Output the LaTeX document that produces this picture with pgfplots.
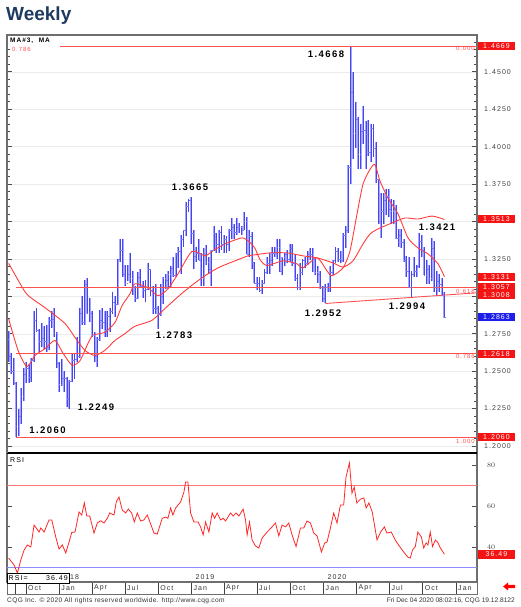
\documentclass[border=0pt]{standalone}
\usepackage{pgfplots}
\pgfplotsset{compat=1.18}
\usepackage{pgfplotstable}
\usepackage{fontspec}
\setmainfont{Liberation Sans}
\newfontfamily\lsp[LetterSpace=15]{Liberation Sans}
\newfontfamily\footf[LetterSpace=5]{Liberation Sans}
\definecolor{barcol}{RGB}{70,70,240}
\definecolor{barhalo}{RGB}{165,165,255}
\definecolor{tickcol}{RGB}{120,120,250}
\definecolor{mared}{RGB}{255,60,60}
\definecolor{fibred}{RGB}{255,80,80}
\definecolor{boxred}{RGB}{245,20,20}
\definecolor{boxblue}{RGB}{30,30,235}
\definecolor{navy}{RGB}{31,58,96}
\definecolor{axgray}{RGB}{110,110,110}
\newcommand\tickf{\lsp\fontsize{7}{8}\selectfont}
\newcommand\lblf{\lsp\bfseries\fontsize{9.5}{10}\selectfont}
\newcommand\fibf{\lsp\fontsize{6}{7}\selectfont}
\pgfdeclareplotmark{otick}{\pgfpathmoveto{\pgfqpoint{-1.2pt}{0pt}}\pgfpathlineto{\pgfqpoint{0pt}{0pt}}\pgfusepathqstroke}
\pgfdeclareplotmark{ctick}{\pgfpathmoveto{\pgfqpoint{0pt}{0pt}}\pgfpathlineto{\pgfqpoint{1.2pt}{0pt}}\pgfusepathqstroke}

\pgfplotstableread{
w o h l c
0 1.2710 1.2770 1.2560 1.2600
1 1.2600 1.2620 1.2480 1.2500
2 1.2500 1.2590 1.2410 1.2420
3 1.2420 1.2430 1.2060 1.2130
4 1.2130 1.2250 1.2065 1.2200
5 1.2200 1.2390 1.2150 1.2330
6 1.2330 1.2520 1.2300 1.2480
7 1.2480 1.2560 1.2420 1.2520
8 1.2520 1.2550 1.2420 1.2460
9 1.2460 1.2590 1.2430 1.2570
10 1.2570 1.2900 1.2560 1.2840
11 1.2840 1.2920 1.2760 1.2770
12 1.2770 1.2780 1.2630 1.2700
13 1.2700 1.2820 1.2660 1.2720
14 1.2720 1.2800 1.2650 1.2700
15 1.2700 1.2810 1.2630 1.2660
16 1.2660 1.2860 1.2640 1.2840
17 1.2840 1.2900 1.2790 1.2850
18 1.2850 1.2920 1.2730 1.2750
19 1.2750 1.2760 1.2520 1.2550
20 1.2550 1.2560 1.2360 1.2410
21 1.2410 1.2580 1.2400 1.2450
22 1.2450 1.2500 1.2360 1.2450
23 1.2450 1.2460 1.2260 1.2310
24 1.2310 1.2440 1.2249 1.2430
25 1.2430 1.2620 1.2430 1.2570
26 1.2570 1.2620 1.2450 1.2580
27 1.2580 1.2730 1.2560 1.2600
28 1.2600 1.2920 1.2590 1.2890
29 1.2890 1.3000 1.2810 1.2830
30 1.2830 1.3110 1.2810 1.3080
31 1.3080 1.3125 1.2880 1.2890
32 1.2890 1.2990 1.2830 1.2890
33 1.2890 1.2900 1.2730 1.2740
34 1.2740 1.2760 1.2560 1.2600
35 1.2600 1.2730 1.2527 1.2710
36 1.2710 1.2910 1.2700 1.2840
37 1.2840 1.2920 1.2780 1.2830
38 1.2830 1.2900 1.2730 1.2770
39 1.2770 1.2900 1.2730 1.2870
40 1.2870 1.2920 1.2760 1.2900
41 1.2900 1.3030 1.2880 1.2960
42 1.2960 1.3000 1.2860 1.2950
43 1.2950 1.3250 1.2940 1.3250
44 1.3250 1.3380 1.3230 1.3310
45 1.3310 1.3385 1.3130 1.3150
46 1.3150 1.3210 1.3070 1.3090
47 1.3090 1.3210 1.3100 1.3150
48 1.3150 1.3290 1.3090 1.3120
49 1.3120 1.3170 1.3010 1.3060
50 1.3060 1.3070 1.2960 1.2990
51 1.2990 1.3160 1.2980 1.3130
52 1.3130 1.3180 1.3060 1.3070
53 1.3070 1.3100 1.2990 1.3040
54 1.3040 1.3110 1.2960 1.3050
55 1.3050 1.3220 1.3040 1.3180
56 1.3180 1.3180 1.3000 1.3040
57 1.3040 1.3070 1.2880 1.2920
58 1.2920 1.3080 1.2880 1.2920
59 1.2920 1.2935 1.2783 1.2880
60 1.2880 1.3080 1.2870 1.3000
61 1.3000 1.3130 1.2950 1.3120
62 1.3120 1.3150 1.3050 1.3110
63 1.3110 1.3170 1.3050 1.3150
64 1.3150 1.3200 1.3060 1.3190
65 1.3190 1.3260 1.3130 1.3140
66 1.3140 1.3290 1.3130 1.3280
67 1.3280 1.3330 1.3190 1.3300
68 1.3300 1.3410 1.3150 1.3380
69 1.3380 1.3440 1.3330 1.3440
70 1.3440 1.3630 1.3400 1.3600
71 1.3600 1.3650 1.3560 1.3640
72 1.3640 1.3665 1.3350 1.3420
73 1.3420 1.3440 1.3180 1.3270
74 1.3270 1.3330 1.3230 1.3290
75 1.3290 1.3380 1.3240 1.3240
76 1.3240 1.3290 1.3070 1.3120
77 1.3120 1.3320 1.3070 1.3280
78 1.3280 1.3340 1.3210 1.3230
79 1.3230 1.3260 1.3150 1.3180
80 1.3180 1.3310 1.3070 1.3310
81 1.3310 1.3470 1.3300 1.3420
82 1.3420 1.3420 1.3290 1.3350
83 1.3350 1.3440 1.3290 1.3430
84 1.3430 1.3470 1.3310 1.3350
85 1.3350 1.3410 1.3290 1.3380
86 1.3380 1.3400 1.3290 1.3350
87 1.3350 1.3450 1.3300 1.3440
88 1.3440 1.3520 1.3380 1.3460
89 1.3460 1.3480 1.3380 1.3430
90 1.3430 1.3520 1.3410 1.3460
91 1.3460 1.3490 1.3420 1.3460
92 1.3460 1.3470 1.3410 1.3440
93 1.3440 1.3565 1.3440 1.3500
94 1.3500 1.3530 1.3280 1.3280
95 1.3280 1.3440 1.3260 1.3400
96 1.3400 1.3430 1.3180 1.3230
97 1.3230 1.3230 1.3090 1.3090
98 1.3090 1.3130 1.3040 1.3090
99 1.3090 1.3130 1.3030 1.3040
100 1.3040 1.3110 1.3016 1.3090
101 1.3090 1.3180 1.3090 1.3160
102 1.3160 1.3260 1.3150 1.3220
103 1.3220 1.3290 1.3150 1.3240
104 1.3240 1.3330 1.3200 1.3290
105 1.3290 1.3330 1.3260 1.3290
106 1.3290 1.3380 1.3250 1.3330
107 1.3330 1.3380 1.3160 1.3170
108 1.3170 1.3260 1.3140 1.3260
109 1.3260 1.3290 1.3200 1.3280
110 1.3280 1.3310 1.3220 1.3250
111 1.3250 1.3350 1.3230 1.3320
112 1.3320 1.3350 1.3200 1.3220
113 1.3220 1.3280 1.3100 1.3120
114 1.3120 1.3150 1.3040 1.3060
115 1.3060 1.3220 1.3040 1.3160
116 1.3160 1.3250 1.3140 1.3240
117 1.3240 1.3260 1.3190 1.3220
118 1.3220 1.3300 1.3210 1.3280
119 1.3280 1.3320 1.3240 1.3280
120 1.3280 1.3320 1.3160 1.3250
121 1.3250 1.3250 1.3140 1.3160
122 1.3160 1.3200 1.3090 1.3150
123 1.3150 1.3170 1.3050 1.3060
124 1.3060 1.3070 1.2960 1.2990
125 1.2990 1.3080 1.2952 1.3060
126 1.3060 1.3090 1.3030 1.3050
127 1.3050 1.3200 1.3030 1.3160
128 1.3160 1.3240 1.3140 1.3240
129 1.3240 1.3330 1.3220 1.3300
130 1.3300 1.3320 1.3230 1.3250
131 1.3250 1.3300 1.3220 1.3240
132 1.3240 1.3420 1.3230 1.3410
133 1.3410 1.3470 1.3320 1.3440
134 1.3440 1.3880 1.3420 1.3860
135 1.3860 1.4668 1.3750 1.4360
136 1.4360 1.4500 1.3920 1.4090
137 1.4090 1.4300 1.3990 1.4180
138 1.4180 1.4200 1.3850 1.3950
139 1.3950 1.4150 1.3850 1.4100
140 1.4100 1.4270 1.4020 1.4110
141 1.4110 1.4170 1.3850 1.4080
142 1.4080 1.4180 1.3940 1.3960
143 1.3960 1.4150 1.3900 1.4120
144 1.4120 1.4150 1.3930 1.3990
145 1.3990 1.4030 1.3760 1.3780
146 1.3780 1.3780 1.3480 1.3500
147 1.3500 1.3690 1.3390 1.3570
148 1.3570 1.3690 1.3480 1.3640
149 1.3640 1.3720 1.3540 1.3670
150 1.3670 1.3720 1.3530 1.3580
151 1.3580 1.3650 1.3480 1.3570
152 1.3570 1.3640 1.3480 1.3580
153 1.3580 1.3610 1.3380 1.3390
154 1.3390 1.3450 1.3330 1.3410
155 1.3410 1.3450 1.3320 1.3360
156 1.3360 1.3380 1.3230 1.3240
157 1.3240 1.3270 1.3130 1.3170
158 1.3170 1.3260 1.3060 1.3060
159 1.3060 1.3170 1.2994 1.3150
160 1.3150 1.3260 1.3130 1.3170
161 1.3170 1.3210 1.3130 1.3200
162 1.3200 1.3421 1.3190 1.3370
163 1.3370 1.3410 1.3260 1.3310
164 1.3310 1.3330 1.3140 1.3140
165 1.3140 1.3240 1.3080 1.3180
166 1.3180 1.3210 1.3080 1.3120
167 1.3120 1.3390 1.3100 1.3320
168 1.3320 1.3370 1.3030 1.3060
169 1.3060 1.3170 1.3010 1.3100
170 1.3100 1.3150 1.3030 1.3080
171 1.3080 1.3120 1.3000 1.3010
172 1.3010 1.3030 1.2855 1.2863
}\ohlc

\begin{document}
\begin{tikzpicture}[x=1pt,y=1pt]
\useasboundingbox (0,0) rectangle (520,607);

% ---------------- price panel ----------------
\begin{axis}[
  at={(7pt,154pt)}, anchor=south west, scale only axis,
  width=470pt, height=418pt,
  xmin=-0.64, xmax=184.85, ymin=1.19532, ymax=1.47455,
  axis line style={draw=axgray, line width=1.2pt},
  xtick=\empty,
  ytick={1.2,1.225,1.25,1.275,1.3,1.325,1.35,1.375,1.4,1.425,1.45},
  yticklabels={1.2000,1.2250,1.2500,1.2750,,1.3250,,1.3750,1.4000,1.4250,1.4500},
  minor ytick={1.195,1.2,...,1.475},
  yticklabel pos=right, ytick pos=both,
  tick align=inside, major tick length=5pt, minor tick length=3pt,
  tick style={black!70, line width=0.6pt},
  yticklabel style={font=\tickf, text=black!75, anchor=west, inner sep=0pt, xshift=7pt},
  ymajorgrids, major grid style={black!8, line width=0.4pt},
  clip=false,
]
% bars (low to high) as vertical quiver segments: light halo + darker core
\addplot[barhalo, line width=1.9pt, mark=none, quiver={u=0, v=\thisrow{h}-\thisrow{l}}, -]
  table[x=w, y=l] {\ohlc};
\addplot[barcol, line width=0.7pt, mark=none, quiver={u=0, v=\thisrow{h}-\thisrow{l}}, -]
  table[x=w, y=l] {\ohlc};
\addplot[tickcol, only marks, mark=otick, mark options={line width=0.45pt}] table[x=w, y=o] {\ohlc};
\addplot[tickcol, only marks, mark=ctick, mark options={line width=0.45pt}] table[x=w, y=c] {\ohlc};

% slow MA
\addplot[mared, line width=0.9pt, smooth, tension=0.4] coordinates {
(0,1.3220)(6.46,1.3030)(9.6,1.2980)(14.35,1.2924)(22.25,1.2818)(26.19,1.2725)(30.14,1.2638)
(34.09,1.2605)(38.04,1.2640)(41.98,1.2705)(45.93,1.2751)(49.88,1.2800)(56.59,1.2840)
(62.9,1.2937)(69.61,1.3037)(76.32,1.3124)(82.64,1.3190)(89.35,1.3237)(94.48,1.3270)
(97.24,1.3277)(103.16,1.3290)(109.87,1.3290)(116.18,1.3270)(121.71,1.3257)(128.02,1.3223)
(131.97,1.3195)(135.92,1.3237)(139.86,1.3350)(142.63,1.3416)(145.78,1.3450)(151.31,1.3490)
(156.44,1.3523)(161.57,1.3516)(167.1,1.3536)(172,1.3513)};
% fast MA
\addplot[mared, line width=0.9pt, smooth, tension=0.4] coordinates {
(0,1.2850)(3.7,1.2640)(7.25,1.2530)(10.41,1.2605)(14.35,1.2650)(18.3,1.2705)(21.46,1.2620)
(25.01,1.2540)(28.17,1.2570)(31.32,1.2685)(33.3,1.2740)(38.04,1.2760)(41.98,1.2825)
(44.75,1.2937)(47.9,1.3017)(49.88,1.3084)(55.01,1.3057)(58.95,1.3004)(62.9,1.3050)
(66.85,1.3150)(72.37,1.3300)(77.5,1.3270)(80.27,1.3300)(85.4,1.3350)(92.11,1.3390)
(95.27,1.3360)(97.24,1.3320)(99.21,1.3245)(101.97,1.3205)(108.29,1.3237)(113.82,1.3217)
(116.18,1.3190)(121.71,1.3257)(125.65,1.3170)(127.63,1.3137)(131.97,1.3190)(134.73,1.3303)
(137.5,1.3550)(139.86,1.3749)(142.63,1.3848)(144.6,1.3880)(146.57,1.3770)(149.73,1.3656)
(153.68,1.3550)(157.62,1.3390)(161.57,1.3323)(165.52,1.3283)(169.46,1.3217)(172,1.3131)};

% Fibonacci levels and trend line
\addplot[fibred, line width=1pt] coordinates {(3,1.4669)(184.85,1.4669)};
\addplot[fibred, line width=1pt] coordinates {(3,1.3057)(184.85,1.3057)};
\addplot[fibred, line width=1pt] coordinates {(3,1.2618)(184.85,1.2618)};
\addplot[fibred, line width=1pt] coordinates {(3,1.2060)(184.85,1.2060)};
\addplot[fibred, line width=0.9pt] coordinates {(125,1.2952)(184.85,1.30233)};
\end{axis}

% ---------------- RSI panel ----------------
\begin{axis}[
  at={(7pt,25pt)}, anchor=south west, scale only axis,
  width=470pt, height=129pt,
  xmin=-0.64, xmax=184.85, ymin=22.93, ymax=85.85,
  axis line style={draw=axgray, line width=1.2pt},
  xtick=\empty,
  ytick={40,60,80}, minor ytick={30,50,70},
  yticklabel pos=right, ytick pos=both,
  tick align=inside, major tick length=5pt, minor tick length=3pt,
  tick style={black!70, line width=0.6pt},
  yticklabel style={font=\tickf, text=black!75, anchor=west, inner sep=0pt, xshift=10pt},
]
\addplot[red!55, line width=0.5pt] coordinates {(-0.64,70)(184.85,70)};
\addplot[blue!45, line width=0.5pt] coordinates {(-0.64,30)(184.85,30)};
\addplot[red!85!white, line width=0.8pt] coordinates {
(0,34.6)(2.17,31.2)(3.47,27.3)(4.81,33.7)(6.11,38.5)(7.41,41)(8.75,40)(10.05,50.7)(12.02,47.3)(12.69,49.3)(13.99,47.3)(15.96,53.2)(17.03,53.2)(18.6,44.9)(19.9,39)(21.2,41)(22.55,37.1)(23.85,42.4)(24.91,47.1)(26.21,47.3)(27.79,57.1)(28.85,55.6)(29.88,61.5)(30.82,55.1)(32.01,55.1)(33.7,46.8)(35,51.7)(36.34,52.8)(37.64,51.7)(38.94,54)(39.89,56.6)(41.58,55.6)(42.49,62)(43.56,64.4)(44.86,58)(46.2,56.6)(47.22,58.5)(48.56,56.6)(49.59,52.2)(50.77,56.6)(52.11,52.7)(53.41,53.2)(54.71,55.6)(55.77,52.2)(57.35,46.8)(58.65,46.3)(60.62,54)(61.96,54.6)(62.87,54)(63.93,59)(64.84,55.6)(65.9,59)(67.88,62)(69.18,66.8)(69.85,71.7)(70.75,71.7)(71.82,56.6)(73.12,52.2)(74.81,52.2)(75.76,49.8)(76.78,45.9)(77.73,52.2)(79.03,47.3)(80.33,56.6)(81.28,54)(82.3,56.6)(83.64,53.2)(84.67,54)(85.61,52.7)(87.58,56.6)(88.61,55.1)(89.79,56.6)(90.86,55.1)(92.55,58.5)(93.5,53.2)(94.13,45.9)(95.07,52.2)(96.1,43.4)(97.44,40.5)(98.74,39.5)(100.04,44.4)(102.01,47.3)(103.98,49.8)(105.32,51.7)(106.62,45.4)(107.92,50.7)(109.26,49.8)(110.56,51.7)(111.86,45.9)(113.44,40.2)(115.18,49.3)(116.48,49.3)(117.78,52.7)(119.12,51.7)(120.42,46.8)(121.72,45.4)(123.45,37.6)(124.75,42)(125.66,42.4)(127,49.3)(128.3,56.6)(129.6,51.7)(130.94,60.5)(132.24,60.5)(133.15,74.1)(134.5,81)(135.5,66.3)(136.4,69.2)(137.4,61.5)(138.9,63.4)(140.2,63.9)(141.1,59)(142.2,61.5)(143.5,57.1)(145.4,43.4)(146.8,47.3)(148.3,49.8)(149.3,46.8)(151.0,47.3)(152.6,43.4)(153.9,41)(155.9,37.6)(157.5,35.1)(158.5,34.6)(159.4,38.5)(160.5,40.2)(161.5,47.3)(162.9,44.9)(163.8,39.5)(164.8,42)(165.5,41)(166.4,47.3)(167.3,40.2)(168.4,43.4)(169.3,42.4)(170.4,39.5)(172,36.49)};
\end{axis}

% ---------------- date strip ----------------
\begin{axis}[
  at={(7pt,13pt)}, anchor=south west, scale only axis,
  width=470pt, height=12pt,
  xmin=-0.64, xmax=184.85, ymin=0, ymax=1,
  axis line style={draw=axgray, line width=0.8pt},
  ytick=\empty,
  xtick={2.5,6.857,20,32.857,45.857,59,72.143,85,98,111.143,124.286,137.286,150.286,163.429,176.571},
  xticklabels={,Oct,Jan,Apr,Jul,Oct,Jan,Apr,Jul,Oct,Jan,Apr,Jul,Oct,Jan},
  major tick length=0pt,
  xmajorgrids, major grid style={black!75, line width=0.6pt},
  xticklabel style={font=\tickf, text=black!80, anchor=west, inner sep=0pt, xshift=2pt, yshift=6pt},
]
\addplot[draw=none] coordinates {(0,0.5)};
\end{axis}

% separators
\draw[black, line width=2pt] (7,154) -- (477,154);
\draw[axgray, line width=1.6pt] (7,154) -- (7,572);

% top-left legend box
\fill[white] (8,571) rectangle (60,560.3);
\node[anchor=west, inner sep=0pt, font=\lsp\bfseries\fontsize{6.5}{7}\selectfont] at (10,565.8) {MA\#3,\ \ MA};
\node[anchor=west, inner sep=0pt, text=fibred, font=\fibf] at (12,557.5) {0.786};

% extreme labels
\node[font=\lblf] at (326,553) {1.4668};
\node[font=\lblf] at (190,420) {1.3665};
\node[font=\lblf] at (437,380) {1.3421};
\node[font=\lblf] at (174,272) {1.2783};
\node[font=\lblf] at (323,293.5) {1.2952};
\node[font=\lblf] at (407,300.5) {1.2994};
\node[font=\lblf] at (96,199.5) {1.2249};
\node[font=\lblf] at (47.5,176.5) {1.2060};

% fib labels
\node[anchor=east, inner sep=0pt, text=fibred, font=\fibf] at (475,558.5) {0.000};
\node[anchor=east, inner sep=0pt, text=fibred, font=\fibf] at (475,316) {0.618};
\node[anchor=east, inner sep=0pt, text=fibred, font=\fibf] at (475,250.5) {0.786};
\node[anchor=east, inner sep=0pt, text=fibred, font=\fibf] at (475,166) {1.000};

% right value boxes
\tikzset{vbox/.style={fill=boxred, text=white, font=\tickf, minimum width=37.5pt, minimum height=8pt, inner sep=0pt, anchor=west}}
\node[vbox] at (477.5,561.3) {1.4669};
\node[vbox] at (477.5,387.6) {1.3513};
\node[vbox] at (477.5,330.4) {1.3131};
\node[vbox] at (477.5,319.5) {1.3057};
\node[vbox] at (477.5,312) {1.3008};
\node[vbox, fill=boxblue] at (477.5,290.2) {1.2863};
\node[vbox] at (477.5,253.1) {1.2618};
\node[vbox] at (477.5,169.6) {1.2060};
\node[vbox, minimum height=9pt] at (477.5,52.5) {36.49};

% RSI texts
\node[anchor=west, inner sep=0pt, font=\tickf] at (10,147) {RSI};
\node[anchor=west, inner sep=0pt, font=\tickf, text=black!80] at (70,30) {18};
\node[font=\tickf, text=black!80] at (205,30) {2019};
\node[font=\tickf, text=black!80] at (337,30) {2020};
\draw[black, fill=white, line width=0.6pt] (7,34) rectangle (69,24);
\node[anchor=west, inner sep=0pt, font=\tickf] at (8.5,29) {RSI=};
\node[anchor=east, inner sep=0pt, font=\tickf] at (68,29) {36.49};

% arrow
\fill[red] (503,20.5) -- (508,24.5) -- (508,22.2) -- (515,22.2) -- (515,18.8) -- (508,18.8) -- (508,16.5) -- cycle;

% title and footer
\node[anchor=base west, inner sep=0pt, text=navy, font=\bfseries\fontsize{19}{20}\selectfont] at (6,586) {Weekly};
\node[anchor=base west, inner sep=0pt, text=black!80, font=\footf\fontsize{6.6}{7}\selectfont] at (7,4.5) {CQG Inc. © 2020 All rights reserved worldwide. http://www.cqg.com};
\node[anchor=base east, inner sep=0pt, text=black!80, font=\fontsize{6.6}{7}\selectfont] at (515,4.5) {Fri Dec 04 2020 08:02:16, CQG 19.12.8122};
\end{tikzpicture}
\end{document}
